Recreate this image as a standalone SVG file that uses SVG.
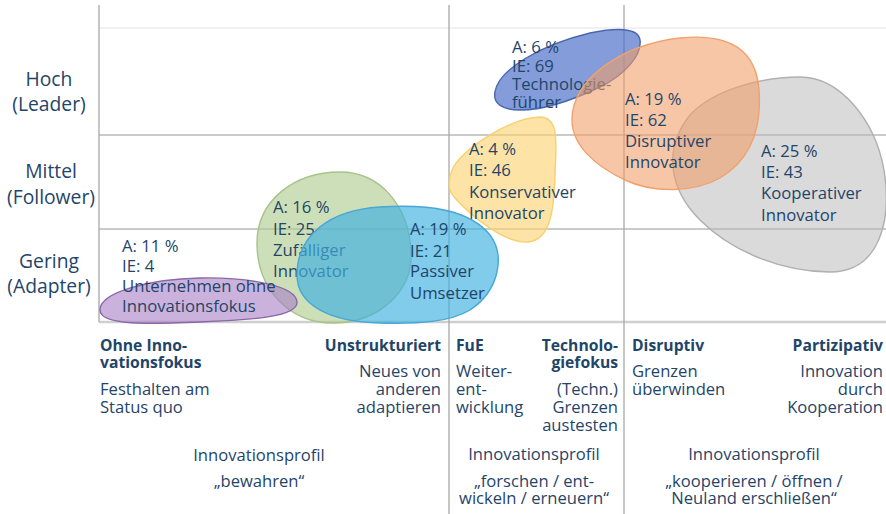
<svg xmlns="http://www.w3.org/2000/svg" width="886" height="514" viewBox="0 0 886 514">
<style>
text{font-family:"Open Sans","Noto Sans","Liberation Sans",sans-serif;fill:#1f4569}
.ax{font-size:19.3px;text-anchor:middle}
.bt{font-size:16.7px}
.lb{font-size:16.6px}
.hd{font-size:15.7px;font-weight:bold}
.r{text-anchor:end}
.m{text-anchor:middle}
.grid{stroke:#a8a8a8;stroke-width:1.3;fill:none}
.gridh{stroke:#b8b8b8;stroke-width:1.6;fill:none}
</style>
<rect width="886" height="514" fill="#ffffff"/>
<g id="grid">
<line class="gridh" x1="99" y1="28" x2="886" y2="28" stroke-opacity="0.25"/>
<line class="gridh" x1="99" y1="135" x2="886" y2="135"/>
<line class="gridh" x1="99" y1="229" x2="886" y2="229"/>
<line x1="99" y1="322" x2="886" y2="322" stroke="#cfcfcf" stroke-width="2.5"/>
<line class="grid" x1="99" y1="5" x2="99" y2="322"/>
<line class="grid" x1="449" y1="5" x2="449" y2="514"/>
<line class="grid" x1="624" y1="5" x2="624" y2="514"/>
</g>
<g id="axis-labels">
<text class="ax" x="49" y="86">Hoch</text>
<text class="ax" x="49" y="111">(Leader)</text>
<text class="ax" x="51" y="178">Mittel</text>
<text class="ax" x="51" y="204">(Follower)</text>
<text class="ax" x="49" y="268">Gering</text>
<text class="ax" x="49" y="293">(Adapter)</text>
</g>
<g id="node-kooperativ">
<path d="M 800 77 C 840 77 875 120 884 170 C 892 220 880 272 830 272 C 780 272 730 250 700 220 C 670 190 662 150 690 115 C 715 88 765 77 800 77 Z" fill="#b8b8b8" fill-opacity="0.52" stroke="#b0b0b0" stroke-width="1.4"/>
<text class="bt" x="761" y="157">A: 25 %</text>
<text class="bt" x="761" y="178">IE: 43</text>
<text class="bt" x="761" y="199">Kooperativer</text>
<text class="bt" x="761" y="221">Innovator</text>
</g>
<g id="node-technologie">
<path d="M 495 92 C 498 70 540 45 590 33 C 615 28 638 27 640 40 C 642 55 625 75 600 87 C 575 99 545 110 520 110 C 500 110 493 102 495 92 Z" fill="#4a6fc8" fill-opacity="0.68" stroke="#4a66ae" stroke-width="1.4"/>
<text class="bt" x="512" y="53">A: 6 %</text>
<text class="bt" x="512" y="72">IE: 69</text>
<text class="bt" x="512" y="90">Technologie-</text>
<text class="bt" x="512" y="108">führer</text>
</g>
<g id="node-disruptiv">
<path d="M 572 120 C 572 80 620 45 680 38 C 730 33 756 50 759 90 C 762 130 750 160 720 178 C 695 192 655 194 625 180 C 595 166 572 145 572 120 Z" fill="#f29d68" fill-opacity="0.58" stroke="#f0a26c" stroke-width="1.4"/>
<text class="bt" x="625" y="105">A: 19 %</text>
<text class="bt" x="625" y="126">IE: 62</text>
<text class="bt" x="625" y="147">Disruptiver</text>
<text class="bt" x="625" y="168">Innovator</text>
</g>
<g id="node-konservativ">
<path d="M 452 170 C 460 150 510 118 540 117 C 560 117 556 145 555 175 C 554 205 552 240 528 242 C 505 244 470 215 455 198 C 447 190 448 180 452 170 Z" fill="#fcd470" fill-opacity="0.62" stroke="#f7d070" stroke-width="1.4"/>
<text class="bt" x="469" y="155">A: 4 %</text>
<text class="bt" x="469" y="176">IE: 46</text>
<text class="bt" x="469" y="198">Konservativer</text>
<text class="bt" x="469" y="219">Innovator</text>
</g>
<g id="node-zufaellig">
<path d="M 340 172 C 380 172 408 205 411 250 C 414 290 380 322 335 323 C 290 324 258 290 257 245 C 256 200 295 172 340 172 Z" fill="#aecb8c" fill-opacity="0.62" stroke="#a8c28a" stroke-width="1.4"/>
<text class="bt" x="273" y="213">A: 16 %</text>
<text class="bt" x="273" y="235">IE: 25</text>
<text class="bt" x="273" y="256">Zufälliger</text>
<text class="bt" x="273" y="277">Innovator</text>
</g>
<g id="node-passiv">
<path d="M 297 275 C 297 235 330 210 380 207 C 430 204 470 210 490 235 C 505 255 500 290 470 310 C 450 322 420 324 380 323 C 330 322 297 305 297 275 Z" fill="#3fb0e0" fill-opacity="0.66" stroke="#46a8d6" stroke-width="1.4"/>
<text class="bt" x="410" y="235">A: 19 %</text>
<text class="bt" x="410" y="257">IE: 21</text>
<text class="bt" x="410" y="277">Passiver</text>
<text class="bt" x="410" y="299">Umsetzer</text>
</g>
<g id="node-ohne">
<path d="M 100 310 C 100 292 150 279 200 278 C 250 277 296 286 297 302 C 298 317 250 320 200 322 C 150 324 100 326 100 310 Z" fill="#a77fc6" fill-opacity="0.6" stroke="#8a68a8" stroke-width="1.4"/>
<text class="bt" x="122" y="252">A: 11 %</text>
<text class="bt" x="122" y="272">IE: 4</text>
<text class="bt" x="122" y="292">Unternehmen ohne</text>
<text class="bt" x="122" y="312">Innovationsfokus</text>
</g>
<g id="bottom-labels">
<text class="hd" x="100" y="351">Ohne Inno-</text>
<text class="hd" x="100" y="368">vationsfokus</text>
<text class="lb" x="100" y="395">Festhalten am</text>
<text class="lb" x="100" y="413">Status quo</text>
<text class="hd r" x="441" y="351">Unstrukturiert</text>
<text class="lb r" x="441" y="377">Neues von</text>
<text class="lb r" x="441" y="395">anderen</text>
<text class="lb r" x="441" y="413">adaptieren</text>
<text class="lb m" x="259" y="461">Innovationsprofil</text>
<text class="lb m" x="259" y="487">„bewahren“</text>
<text class="hd" x="456" y="351">FuE</text>
<text class="lb" x="456" y="377">Weiter-</text>
<text class="lb" x="456" y="395">ent-</text>
<text class="lb" x="456" y="413">wicklung</text>
<text class="hd r" x="618" y="351">Technolo-</text>
<text class="hd r" x="618" y="368">giefokus</text>
<text class="lb r" x="618" y="395">(Techn.)</text>
<text class="lb r" x="618" y="413">Grenzen</text>
<text class="lb r" x="618" y="431">austesten</text>
<text class="lb m" x="534" y="460">Innovationsprofil</text>
<text class="lb m" x="534" y="487">„forschen / ent-</text>
<text class="lb m" x="534" y="504">wickeln / erneuern“</text>
<text class="hd" x="632" y="351">Disruptiv</text>
<text class="lb" x="632" y="377">Grenzen</text>
<text class="lb" x="632" y="395">überwinden</text>
<text class="hd r" x="883" y="351">Partizipativ</text>
<text class="lb r" x="883" y="377">Innovation</text>
<text class="lb r" x="883" y="395">durch</text>
<text class="lb r" x="883" y="413">Kooperation</text>
<text class="lb m" x="754" y="460">Innovationsprofil</text>
<text class="lb m" x="754" y="487">„kooperieren / öffnen /</text>
<text class="lb m" x="754" y="504">Neuland erschließen“</text>
</g>
</svg>
